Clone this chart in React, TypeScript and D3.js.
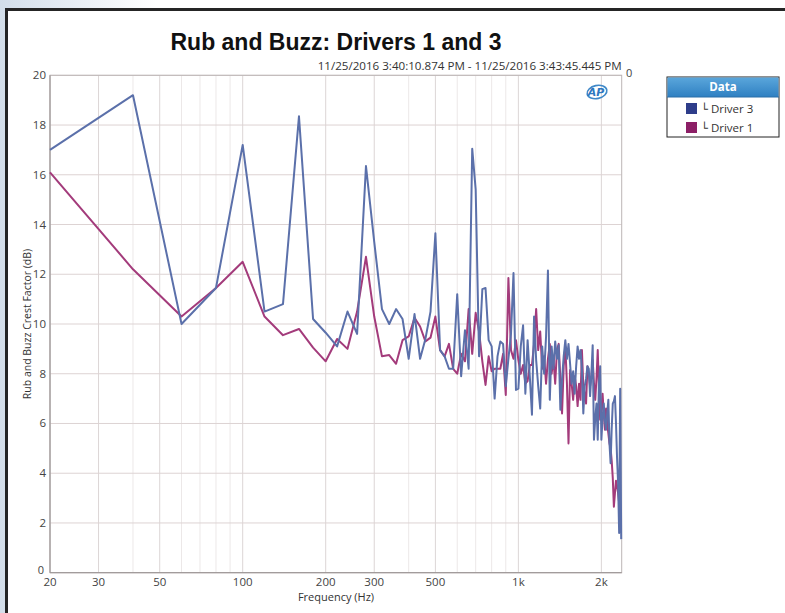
import React from 'react';
import * as d3 from 'd3';

// FFT bin centres (Hz)
const freqHz = [
  20, 40, 60, 80, 100, 120, 140, 160, 180, 200,
  220, 240, 260, 280, 300, 320, 340, 360, 380, 400,
  420, 440, 460, 480, 500, 520, 540, 560, 580, 600,
  620, 640, 660, 680, 700, 720, 740, 760, 780, 800,
  820, 840, 860, 880, 900, 920, 940, 960, 980, 1000,
  1020, 1040, 1060, 1080, 1100, 1120, 1140, 1160, 1180, 1200,
  1220, 1240, 1260, 1280, 1300, 1320, 1340, 1360, 1380, 1400,
  1420, 1440, 1460, 1480, 1500, 1520, 1540, 1560, 1580, 1600,
  1620, 1640, 1660, 1680, 1700, 1720, 1740, 1760, 1780, 1800,
  1820, 1840, 1860, 1880, 1900, 1920, 1940, 1960, 1980, 2000,
  2020, 2040, 2060, 2080, 2100, 2120, 2140, 2160, 2180, 2200,
  2220, 2240, 2260, 2280, 2300, 2320, 2340, 2360,
];

// Rub and buzz crest factor (dB), Driver 3
const driver3 = [
  17.0, 19.2, 10.0, 11.45, 17.2, 10.5, 10.8, 18.35, 10.2, 9.65,
  9.1, 10.5, 9.6, 16.35, 13.3, 10.6, 10.0, 10.6, 10.2, 8.6,
  10.4, 8.6, 9.4, 10.5, 13.65, 8.95, 8.7, 8.2, 8.2, 11.2,
  7.9, 9.75, 8.2, 17.05, 15.4, 8.7, 11.4, 11.45, 9.35, 9.1,
  7.0, 8.7, 9.3, 9.2, 7.5, 8.6, 9.6, 12.05, 7.35, 7.4,
  9.1, 9.95, 7.2, 9.35, 7.9, 6.35, 10.3, 8.55, 7.5, 6.6,
  9.1, 8.0, 9.5, 12.15, 6.95, 9.1, 8.2, 9.3, 8.6, 9.15,
  6.55, 7.8, 8.7, 9.35, 8.6, 9.2, 8.4, 7.6, 8.1, 7.2,
  8.3, 9.1, 8.6, 8.95, 8.2, 6.4, 7.5, 7.8, 8.3, 8.2,
  7.1, 8.0, 9.15, 5.35, 6.2, 6.8, 5.35, 7.6, 8.3, 5.35,
  6.2, 6.8, 6.1, 5.75, 6.4, 6.95, 5.2, 4.4, 5.8, 6.8,
  6.9, 7.1, 6.0, 4.6, 3.6, 1.6, 7.4, 1.35,
];

// Rub and buzz crest factor (dB), Driver 1
const driver1 = [
  16.1, 12.2, 10.3, 11.45, 12.5, 10.3, 9.55, 9.8, 9.05, 8.5,
  9.4, 9.0, 10.5, 12.7, 10.3, 8.7, 8.75, 8.4, 9.35, 9.5,
  10.25, 9.9, 9.3, 9.45, 10.3, 8.95, 8.7, 9.2, 8.2, 8.0,
  8.8, 8.5, 10.6, 8.8, 10.45, 9.7, 8.5, 7.55, 8.7, 8.1,
  8.2, 8.2, 8.2, 8.8, 7.15, 11.85, 8.95, 8.6, 9.35, 8.55,
  8.0, 8.35, 7.6, 7.7, 8.35, 8.35, 9.2, 10.6, 8.95, 9.7,
  8.2, 8.7, 7.6, 8.6, 9.2, 8.0, 8.6, 7.6, 8.95, 9.2,
  7.8, 6.4, 8.3, 9.1, 7.6, 5.2, 8.15, 7.6, 6.95, 7.9,
  7.5, 6.7, 7.6, 6.95, 8.95, 7.5, 7.2, 6.8, 8.3, 8.0,
  7.5, 7.9, 8.55, 7.6, 6.95, 7.8, 8.95, 7.4, 6.15, 6.55,
  7.2, 6.4, 5.75, 6.6, 6.0, 5.6, 5.2, 5.0, 4.5, 3.8,
  2.65, 3.2, 3.7, 3.5, 3.2, 2.8, 2.3, 2.25,
];

const yTicks = [0, 2, 4, 6, 8, 10, 12, 14, 16, 18, 20];
const xMajor = [20, 30, 50, 100, 200, 300, 500, 1000, 2000];
const xMajorLabels = ['20', '30', '50', '100', '200', '300', '500', '1k', '2k'];
const xMinor = [40, 60, 70, 80, 90, 400, 600, 700, 800, 900];

const seriesNames = ['Driver 3', 'Driver 1'];
const lineColors = ['#5b70aa', '#a33b7b'];
const swatchColors = ['#2e3d8a', '#8c1f66'];

const title = 'Rub and Buzz: Drivers 1 and 3';
const subtitle = '11/25/2016 3:40:10.874 PM - 11/25/2016 3:43:45.445 PM';

export default function App() {
  const W = 785, H = 613;
  const left = 50, right = 621.7, top = 75.3, bottom = 572.7;

  const x = d3.scaleLog().domain([20, 2370]).range([left, right]);
  const y = d3.scaleLinear().domain([0, 20]).range([bottom, top]);

  const line = d3.line<number>()
    .x((d, i) => x(freqHz[i]))
    .y(d => y(d));

  const uiFont = "'Open Sans', 'DejaVu Sans', sans-serif";
  const series = [driver3, driver1];

  return (
    <div style={{ position: 'absolute', left: 0, top: 0 }}>
      <svg width={W} height={H} style={{ display: 'block' }}>
        <defs>
          <linearGradient id="bg" x1="0" x2="1" y1="0" y2="0">
            <stop offset="0" stopColor="#d3deea" />
            <stop offset="0.2" stopColor="#ffffff" />
          </linearGradient>
          <linearGradient id="hdr" x1="0" x2="0" y1="0" y2="1">
            <stop offset="0" stopColor="#5aa6db" />
            <stop offset="1" stopColor="#2f80c2" />
          </linearGradient>
        </defs>

        {/* frame */}
        <rect x={0} y={0} width={W} height={H} fill="url(#bg)" />
        <rect x={6.5} y={9.5} width={W + 20} height={H + 20} fill="#fff" stroke="#252525" strokeWidth={3} />

        {/* title */}
        <text x={336} y={50} textAnchor="middle" fontFamily="'Liberation Sans', Arial, sans-serif"
          fontWeight="bold" fontSize={23} fill="#111">{title}</text>
        <text x={right} y={70} textAnchor="end" fontFamily={uiFont} fontSize={10.5} fill="#333"
          textLength={304} lengthAdjust="spacingAndGlyphs">{subtitle}</text>
        <text x={626} y={77} fontFamily={uiFont} fontSize={11} fill="#444">0</text>

        {/* grid */}
        {xMinor.map(f => (
          <line key={'mn' + f} x1={x(f)} x2={x(f)} y1={top} y2={bottom} stroke="#ece8e8" strokeWidth={1} />
        ))}
        {xMajor.map(f => (
          <line key={'mj' + f} x1={x(f)} x2={x(f)} y1={top} y2={bottom} stroke="#dcd6d6" strokeWidth={1} />
        ))}
        {yTicks.map(t => (
          <line key={'gy' + t} x1={left} x2={right} y1={y(t)} y2={y(t)} stroke="#ddd3d3" strokeWidth={1} />
        ))}

        {/* plot border */}
        <rect x={left} y={top} width={right - left} height={bottom - top} fill="none" stroke="#bcb6b6" strokeWidth={1} />
        <line x1={left} x2={left} y1={top} y2={bottom} stroke="#9a9494" strokeWidth={1} />
        <line x1={left} x2={right} y1={bottom} y2={bottom} stroke="#9a9494" strokeWidth={1} />

        {/* y tick labels */}
        {yTicks.map(t => (
          <text key={'yl' + t} x={t === 0 ? left - 6 : left - 4} y={y(t) + (t === 0 ? 1 : 4)} textAnchor="end"
            fontFamily={uiFont} fontSize={t === 0 ? 11 : 11.5} fill="#444">{t}</text>
        ))}

        {/* x tick labels */}
        {xMajor.map((f, i) => (
          <text key={'xl' + f} x={x(f)} y={586} textAnchor="middle" fontFamily={uiFont}
            fontSize={11.5} fill="#444">{xMajorLabels[i]}</text>
        ))}

        <text x={336} y={600.5} textAnchor="middle" fontFamily={uiFont} fontSize={11} fill="#333">Frequency (Hz)</text>
        <text transform={`translate(31,${(top + bottom) / 2}) rotate(-90)`} textAnchor="middle"
          fontFamily={uiFont} fontSize={10.5} fill="#333">Rub and Buzz Crest Factor (dB)</text>

        {/* AP logo */}
        <g transform="translate(597,92)">
          <ellipse cx={0} cy={0} rx={10} ry={6.5} fill="none" stroke="#3f88c8" strokeWidth={1.6} transform="rotate(-12)" />
          <text x={-1} y={4} textAnchor="middle" fontFamily="'DejaVu Sans', sans-serif" fontStyle="italic"
            fontWeight="bold" fontSize={11} fill="#2f78c0">AP</text>
        </g>

        {/* data */}
        <g>
          {[1, 0].map(k => (
            <path key={seriesNames[k]} d={line(series[k]) || ''} fill="none" stroke={lineColors[k]}
              strokeWidth={2} strokeLinejoin="round" />
          ))}
        </g>

        {/* legend */}
        <g transform="translate(667,77)">
          <rect x={0} y={0} width={112} height={60} fill="#fff" stroke="#222" strokeWidth={1} />
          <rect x={0.5} y={0.5} width={111} height={19.5} fill="url(#hdr)" />
          <line x1={0} x2={112} y1={20} y2={20} stroke="#2a6fa8" strokeWidth={1} />
          <text x={56} y={14} textAnchor="middle" fontFamily={uiFont} fontWeight="bold" fontSize={11.5} fill="#fff">Data</text>
          {seriesNames.map((s, i) => (
            <g key={s} transform={`translate(0,${26 + i * 19})`}>
              <rect x={19} y={0} width={11} height={11} fill={swatchColors[i]} />
              <text x={34} y={9.5} fontFamily={uiFont} fontSize={11.5} fill="#333">{'\u2514 ' + s}</text>
            </g>
          ))}
        </g>
      </svg>
    </div>
  );
}
